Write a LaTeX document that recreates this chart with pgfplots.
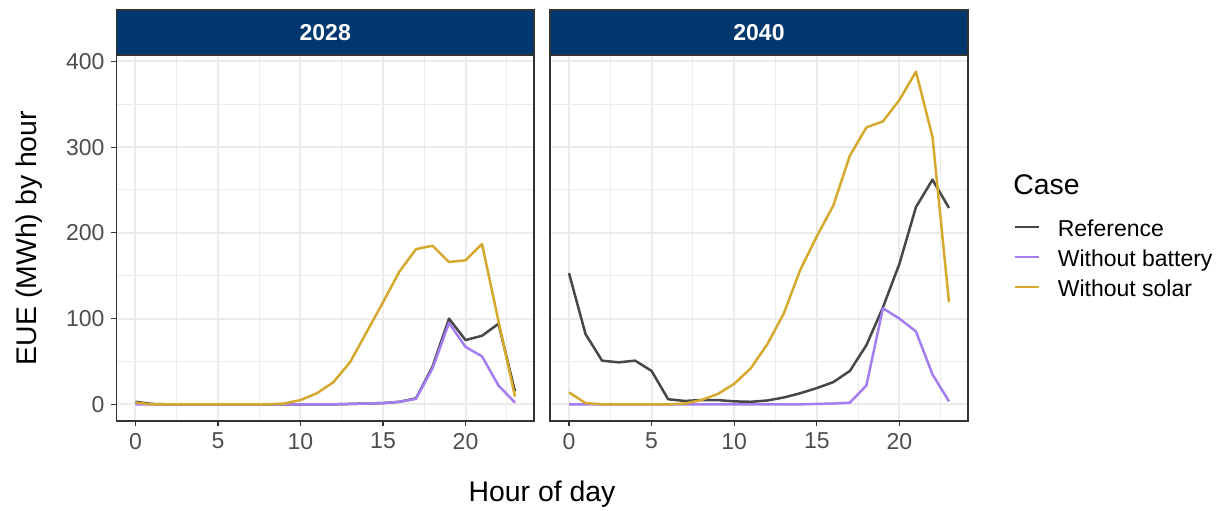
\documentclass[border=0pt]{standalone}
\usepackage{pgfplots}
\pgfplotsset{compat=1.18}
\usepackage{fontspec}
\setmainfont{Liberation Sans}
\definecolor{refc}{HTML}{474747}
\definecolor{batc}{HTML}{A47EF0}
\definecolor{solc}{HTML}{D5A82E}
\definecolor{stripc}{HTML}{00376F}
\definecolor{gridc}{HTML}{EBEBEB}
\definecolor{framec}{HTML}{333333}
\definecolor{tickc}{HTML}{4D4D4D}

\pgfplotstableread{
h ref bat sol
0 3 0 2
1 0.5 0 0
2 0 0 0
3 0 0 0
4 0 0 0
5 0 0 0
6 0 0 0
7 0 0 0
8 0 0 0
9 0 0 1
10 0 0 5
11 0 0 13
12 0 0 26
13 0.5 0.5 49
14 1 1 84
15 1.5 1.5 119
16 3 3 155
17 7 6.5 181
18 44 42 185
19 100 95 166
20 75 67 168
21 80 56 187
22 94 22 97
23 15 2 9
}\tabA

\pgfplotstableread{
h ref bat sol
0 153 0 14
1 82 0 1.5
2 51 0 0
3 49 0 0
4 51 0 0
5 39 0 0
6 6 0 0
7 4 0 1
8 5 0 5
9 5 0 12
10 3.5 0 24
11 3 0 42
12 4.5 0 70
13 8 0 106
14 13 0 157
15 19 0.5 196
16 26 1 232
17 39 2 290
18 69 22 323
19 113 112 330
20 164 100 355
21 230 85 388
22 262 35 312
23 229 3.5 119
}\tabB

\pgfplotsset{panel/.style={
  scale only axis, height=183pt,
  xmin=-1.15, xmax=24.15, ymin=-19.4, ymax=407.4,
  xtick={0,5,10,15,20}, ytick={0,100,200,300,400},
  minor xtick={2.5,7.5,12.5,17.5,22.5}, minor ytick={50,150,250,350},
  grid=both,
  major grid style={gridc, line width=1pt},
  minor grid style={gridc, line width=0.5pt},
  tick align=outside, major tick length=2.5pt, minor tick length=0pt,
  xtick pos=bottom, ytick pos=left,
  tick style={framec, line width=0.55pt},
  axis line style={framec, line width=0.55pt},
  every tick label/.append style={font=\fontsize{11.5}{13}\selectfont, text=tickc},
  /pgf/number format/assume math mode=true,
  clip=false,
  every axis plot/.append style={line width=1.25pt, line join=round, no marks},
}}

\begin{document}
\begin{tikzpicture}
\useasboundingbox (0,0) rectangle (611.5pt,-255pt);

\begin{axis}[panel, width=208.75pt, at={(58.25pt,-210.5pt)}, anchor=south west]
\addplot[refc] table[x=h,y=ref] {\tabA};
\addplot[batc] table[x=h,y=bat] {\tabA};
\addplot[solc] table[x=h,y=sol] {\tabA};
\draw[framec, line width=0.55pt, fill=stripc] (rel axis cs:0,1) rectangle ([yshift=22.5pt]rel axis cs:1,1);
\node[text=white, font=\bfseries\fontsize{11.5}{13}\selectfont] at ([yshift=11.25pt]rel axis cs:0.5,1) {2028};
\end{axis}

\begin{axis}[panel, width=209pt, at={(275pt,-210.5pt)}, anchor=south west,
  yticklabels={}, ytick style={draw=none},
  legend style={at={(1.1077,0.5505)}, anchor=north west, draw=none, fill=none,
    inner sep=0pt, row sep=3pt, font=\fontsize{11.5}{13}\selectfont,
    nodes={inner sep=1pt, text height=0.75em, text depth=0.25em}, cells={anchor=west},
    /tikz/every odd column/.append style={column sep=8pt}},
  legend image code/.code={\draw[#1, line width=1.2pt] (0pt,2.6pt) -- (12pt,2.6pt);}]
\addplot[refc] table[x=h,y=ref] {\tabB};
\addlegendentry{Reference}
\addplot[batc] table[x=h,y=bat] {\tabB};
\addlegendentry{Without battery}
\addplot[solc] table[x=h,y=sol] {\tabB};
\addlegendentry{Without solar}
\draw[framec, line width=0.55pt, fill=stripc] (rel axis cs:0,1) rectangle ([yshift=22.5pt]rel axis cs:1,1);
\node[text=white, font=\bfseries\fontsize{11.5}{13}\selectfont] at ([yshift=11.25pt]rel axis cs:0.5,1) {2040};
\end{axis}

\node[anchor=west, font=\fontsize{14.2}{16}\selectfont, inner sep=0pt] at (506.5pt,-92.5pt) {Case};
\node[font=\fontsize{14.2}{16}\selectfont] at (271pt,-247pt) {Hour of day};
\node[font=\fontsize{14.2}{16}\selectfont, rotate=90] at (14.5pt,-119pt) {EUE (MWh) by hour};
\end{tikzpicture}
\end{document}
